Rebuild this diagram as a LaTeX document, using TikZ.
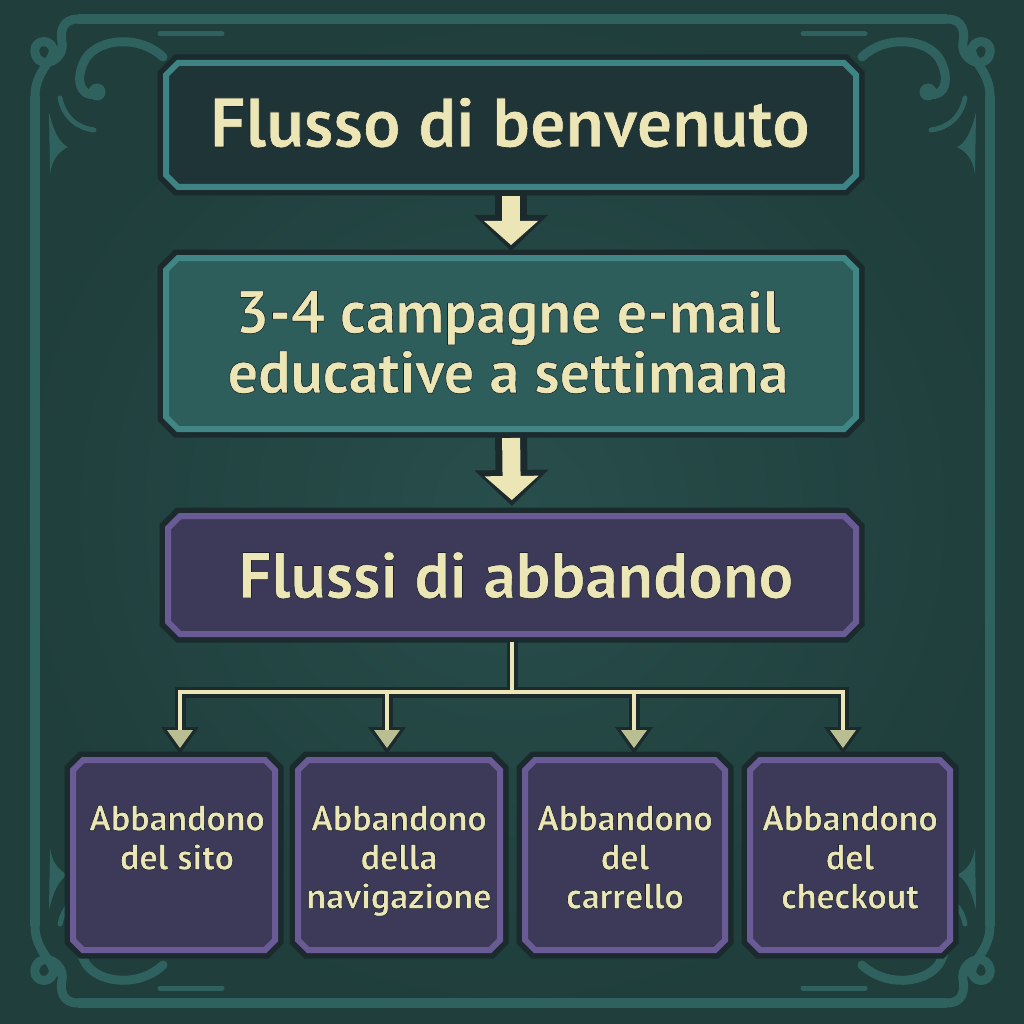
\documentclass[tikz,border=0pt]{standalone}
\usepackage{fontspec}
\setmainfont{PT Sans}
\usetikzlibrary{arrows.meta,calc}
\definecolor{bgc}{HTML}{254846}
\definecolor{bgin}{HTML}{284E4B}
\definecolor{bgout}{HTML}{1F3E3C}
\definecolor{ornc}{HTML}{2F625F}
\definecolor{darkl}{HTML}{1B2A2D}
\definecolor{bafill}{HTML}{1F3436}
\definecolor{baedge}{HTML}{3F8484}
\definecolor{bbfill}{HTML}{2D5E5B}
\definecolor{bbedge}{HTML}{3F8685}
\definecolor{pfill}{HTML}{3D3A59}
\definecolor{pedge}{HTML}{6A5B97}
\definecolor{cream}{HTML}{ECE6B6}
\definecolor{headc}{HTML}{B9BE93}
\newcommand\outl[1]{\special{pdf:literal direct 2 Tr 0.10 0.14 0.17 RG 0.6 w}#1\special{pdf:literal direct 0 Tr}}
\newcommand\octo[3]{\path[#3] ($(#1.north west)+(#2,0)$) -- ($(#1.north east)+(-#2,0)$) -- ($(#1.north east)+(0,#2)$) -- ($(#1.south east)+(0,-#2)$) -- ($(#1.south east)+(-#2,0)$) -- ($(#1.south west)+(#2,0)$) -- ($(#1.south west)+(0,-#2)$) -- ($(#1.north west)+(0,#2)$) -- cycle;}
\newcommand\cornerorn{%
  \draw[orn, line width=9pt] (78,19) .. controls (62,19) and (60,32) .. (62,42) .. controls (65,60) and (42,70) .. (36,56) .. controls (30,42) and (48,36) .. (53,48) .. controls (57,58) and (35,70) .. (35,96);
  \draw[orn, line width=9pt] (163,57) .. controls (140,35) and (100,38) .. (86,58) .. controls (74,78) and (80,98) .. (96,94);
  \fill[ornc] (97,92) circle (8.5);
  \draw[orn, line width=5pt] (60,98) .. controls (64,118) and (78,128) .. (94,130);
  \fill[ornc] (49,112) .. controls (54,134) and (61,144) .. (68,147) .. controls (58,152) and (52,160) .. (50,174) -- cycle;
  \draw[orn, line width=5pt] (160,34) -- (222,34);
}
\begin{document}
\begin{tikzpicture}[x=1pt,y=-1pt,
  orn/.style={draw=ornc, line cap=round},
  boxnode/.style={draw=none, inner sep=0pt, outer sep=0pt, rectangle},
  boxa/.style={fill=bafill, draw=baedge, line width=6pt, preaction={draw=darkl, line width=17pt}},
  boxb/.style={fill=bbfill, draw=bbedge, line width=6pt, preaction={draw=darkl, line width=17pt}},
  boxp/.style={fill=pfill, draw=pedge, line width=6pt, preaction={draw=darkl, line width=17pt}},
  txt/.style={text=cream, font=\bfseries, inner sep=0pt, align=center},
  bigdark/.style={draw=darkl, line width=32pt, -{Triangle[width=74pt,length=36pt,line width=0pt]}},
  bigcream/.style={draw=cream, line width=18pt, -{Triangle[width=54pt,length=24pt,line width=0pt]}},
  smdark/.style={draw=darkl, line width=11pt},
  smcream/.style={draw=cream, line width=4.5pt},
  smdarktip/.style={-{Triangle[width=38pt,length=27pt,line width=0pt]}, shorten >=6pt},
  smcreamtip/.style={-{Triangle[width=26pt,length=18pt,line width=0pt,color=headc]}, shorten >=12pt}
]
\useasboundingbox (0,0) rectangle (1024,1024);
\shade[inner color=bgin, outer color=bgout] (0,0) rectangle (1024,1024);
% frame
\draw[orn, line width=10pt, line cap=butt] (35,96) -- (35,926) (990,96) -- (990,926) (78,19) -- (947,19) (78,1003) -- (947,1003);
\cornerorn
\begin{scope}[shift={(1025,0)}, xscale=-1] \cornerorn \end{scope}
\begin{scope}[shift={(0,1022)}, yscale=-1] \cornerorn \end{scope}
\begin{scope}[shift={(1025,1022)}, xscale=-1, yscale=-1] \cornerorn \end{scope}
% boxes
\node[boxnode, minimum width=690pt, minimum height=124pt] (b1) at (511,125) {};
\node[boxnode, minimum width=690pt, minimum height=171pt] (b2) at (511,343.5) {};
\node[boxnode, minimum width=688pt, minimum height=118pt] (b3) at (512,575) {};
\node[boxnode, minimum width=202pt, minimum height=190pt] (c1) at (174,855) {};
\node[boxnode, minimum width=202pt, minimum height=190pt] (c2) at (399,855) {};
\node[boxnode, minimum width=200pt, minimum height=190pt] (c3) at (625,855) {};
\node[boxnode, minimum width=200pt, minimum height=190pt] (c4) at (850,855) {};
\octo{b1}{12}{boxa}
\octo{b2}{12}{boxb}
\octo{b3}{12}{boxp}
\octo{c1}{10}{boxp}
\octo{c2}{10}{boxp}
\octo{c3}{10}{boxp}
\octo{c4}{10}{boxp}
% texts
\node[txt, font=\fontsize{70}{70}\selectfont\bfseries, anchor=base] (t1) at (510,147) {\outl{Flusso di benvenuto}};
\node[txt, font=\fontsize{60}{60}\selectfont\bfseries] (t2) at (508,342) {\outl{3-4 campagne e-mail}\\\outl{educative a settimana}};
\node[txt, font=\fontsize{65}{65}\selectfont\bfseries, anchor=base] (t3) at (516,598) {\outl{Flussi di abbandono}};
\node[txt, font=\fontsize{36}{39}\selectfont\bfseries, anchor=north] (u1) at (177,805) {\outl{Abbandono}\\\outl{del sito}};
\node[txt, font=\fontsize{36}{39}\selectfont\bfseries, anchor=north] (u2) at (399,805) {\outl{Abbandono}\\\outl{della}\\\outl{navigazione}};
\node[txt, font=\fontsize{36}{39}\selectfont\bfseries, anchor=north] (u3) at (625,805) {\outl{Abbandono}\\\outl{del}\\\outl{carrello}};
\node[txt, font=\fontsize{36}{39}\selectfont\bfseries, anchor=north] (u4) at (850,805) {\outl{Abbandono}\\\outl{del}\\\outl{checkout}};
% big arrows
\draw[bigdark, shorten <=4pt, shorten >=7pt] (b1.south) -- (b2.north);
\draw[bigcream, shorten <=9pt, shorten >=13pt] (b1.south) -- (b2.north);
\draw[bigdark, shorten <=4pt, shorten >=10pt] (b2.south) -- (b3.north);
\draw[bigcream, shorten <=9pt, shorten >=16pt] (b2.south) -- (b3.north);
% tree
\coordinate (j) at (512,692);
\coordinate (d1) at (180,692);
\coordinate (d2) at (387,692);
\coordinate (d3) at (634,692);
\coordinate (d4) at (843,692);
\draw[smdark, shorten <=5pt] (b3.south) -- (j);
\foreach \k in {1,2,3,4} {\draw[smdark, smdarktip] (j) -| (d\k |- c\k.north);}
\draw[smcream, shorten <=8pt] (b3.south) -- (j);
\foreach \k in {1,2,3,4} {\draw[smcream, smcreamtip] (j) -| (d\k |- c\k.north);}
\end{tikzpicture}
\end{document}
